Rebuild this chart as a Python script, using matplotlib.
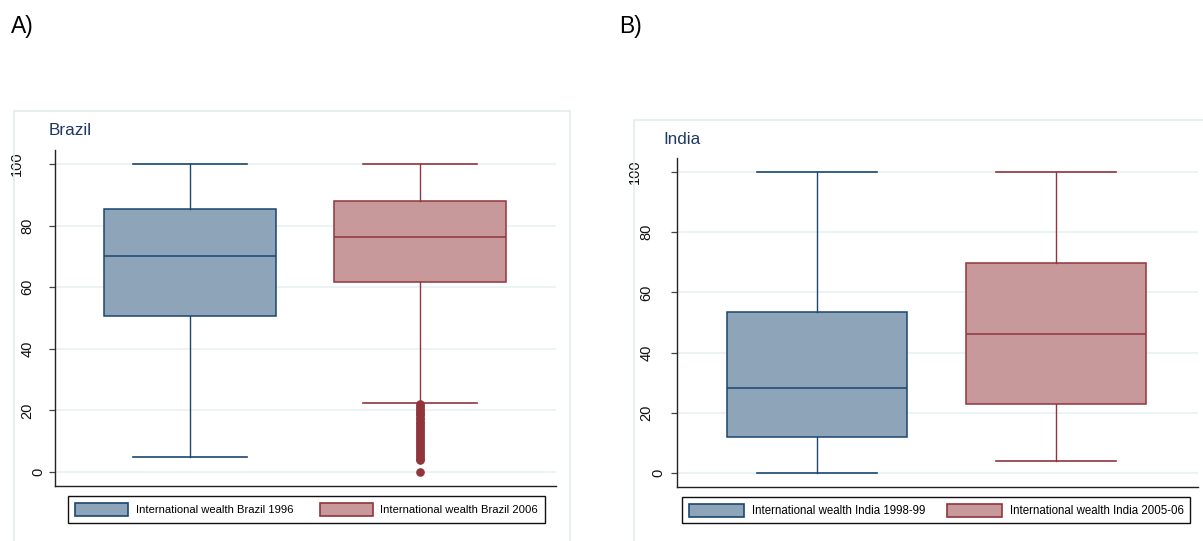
import matplotlib
matplotlib.use("Agg")
import matplotlib.pyplot as plt
from matplotlib.patches import Rectangle, Patch
from matplotlib.transforms import offset_copy

# ---------------- data ----------------
brazil_labels = ["International wealth Brazil 1996", "International wealth Brazil 2006"]
brazil_whislo = [5.0, 22.4]
brazil_q1 = [50.5, 61.7]
brazil_med = [70.1, 76.2]
brazil_q3 = [85.5, 88.1]
brazil_whishi = [100.0, 100.0]
brazil_fliers_1996 = []
brazil_fliers_2006 = [0.0, 3.8, 4.3, 4.9, 5.6, 6.2, 6.9, 7.5, 8.1, 8.8, 9.4, 10.0,
                      10.7, 11.3, 12.0, 12.6, 13.2, 13.9, 14.5, 15.2, 15.8, 16.4,
                      17.1, 17.7, 18.4, 19.0, 19.6, 20.3, 20.9, 21.5, 22.1]

india_labels = ["International wealth India 1998-99", "International wealth India 2005-06"]
india_whislo = [0.0, 4.1]
india_q1 = [12.1, 22.9]
india_med = [28.2, 46.2]
india_q3 = [53.4, 69.9]
india_whishi = [100.0, 100.0]

yticks = [0, 20, 40, 60, 80, 100]
panel_letters = ["A)", "B)"]
panel_titles = ["Brazil", "India"]

# ---------------- style ----------------
W, H = 1203, 541
fig = plt.figure(figsize=(W / 100, H / 100), dpi=100)
fig.patch.set_facecolor("white")

BLUE_EDGE = "#1a476f"
BLUE_FILL = "#8ea4b8"
RED_EDGE = "#90353b"
RED_FILL = "#c8999b"
TITLE_C = "#1f3864"
GRID_C = "#e9f1f3"
FRAME_C = "#e4ecee"
REG = ["Liberation Sans", "DejaVu Sans"]


def px_rect(x0, y0, x1, y1):
    return [x0 / W, 1 - y1 / H, (x1 - x0) / W, (y1 - y0) / H]


# panel frames
fig.patches.append(Rectangle((14 / W, -0.05), (570 - 14) / W, 1.05 - 111 / H,
                             transform=fig.transFigure, fill=False,
                             edgecolor=FRAME_C, linewidth=1.2))
fig.patches.append(Rectangle((634 / W, -0.05), (1215 - 634) / W, 1.05 - 120 / H,
                             transform=fig.transFigure, fill=False,
                             edgecolor=FRAME_C, linewidth=1.2))

# panel letters
fig.text(11 / W, 1 - 33 / H, panel_letters[0], fontsize=16.5, family=REG, color="black")
fig.text(619 / W, 1 - 33 / H, panel_letters[1], fontsize=16.5, family=REG, color="black")

panels = [
    dict(rect=px_rect(55, 150, 556, 486), ylim=(-4.5, 104.5),
         labels=brazil_labels, whislo=brazil_whislo, q1=brazil_q1, med=brazil_med,
         q3=brazil_q3, whishi=brazil_whishi,
         fliers=[brazil_fliers_1996, brazil_fliers_2006],
         pos=[0.2695, 0.7285], bw=0.343, cw=0.2275,
         title=panel_titles[0], title_xy=(49, 135),
         lab_off=(5.5, 11.0),
         leg_xy=(68, 496), leg_fs=8.1,
         leg_px=dict(hl=53, hh=16, htp=8, bp=7, cs=26)),
    dict(rect=px_rect(677, 158, 1198, 487), ylim=(-4.65, 104.65),
         labels=india_labels, whislo=india_whislo, q1=india_q1, med=india_med,
         q3=india_q3, whishi=india_whishi,
         fliers=[[], []],
         pos=[0.2687, 0.7274], bw=0.345, cw=0.229,
         title=panel_titles[1], title_xy=(663, 144),
         lab_off=(6.0, 12.2),
         leg_xy=(682, 497), leg_fs=8.3,
         leg_px=dict(hl=55, hh=16, htp=8, bp=6.5, cs=22)),
]

for p in panels:
    ax = fig.add_axes(p["rect"])
    stats = []
    for i in range(2):
        stats.append(dict(whislo=p["whislo"][i], q1=p["q1"][i], med=p["med"][i],
                          q3=p["q3"][i], whishi=p["whishi"][i],
                          fliers=p["fliers"][i], label=p["labels"][i]))
    for i, (ec, fc) in enumerate([(BLUE_EDGE, BLUE_FILL), (RED_EDGE, RED_FILL)]):
        ax.bxp([stats[i]], positions=[p["pos"][i]], widths=p["bw"],
               capwidths=p["cw"], patch_artist=True, showfliers=True,
               boxprops=dict(facecolor=fc, edgecolor=ec, linewidth=1.1),
               medianprops=dict(color=ec, linewidth=1.1),
               whiskerprops=dict(color=ec, linewidth=1.0),
               capprops=dict(color=ec, linewidth=1.2),
               flierprops=dict(marker="o", markerfacecolor=ec, markeredgecolor=ec,
                               markersize=5.2, linestyle="none"),
               manage_ticks=False, zorder=3)
    ax.set_xlim(0, 1)
    ax.set_ylim(*p["ylim"])
    ax.set_yticks(yticks)
    ax.set_xticks([])
    ax.yaxis.grid(True, color=GRID_C, linewidth=1.2, zorder=0)
    ax.set_axisbelow(True)
    for s in ["top", "right"]:
        ax.spines[s].set_visible(False)
    for s in ["left", "bottom"]:
        ax.spines[s].set_color("#222222")
        ax.spines[s].set_linewidth(1.0)
    ax.tick_params(axis="y", length=4.5, width=0.9, color="#444444", labelleft=False)
    ax.set_facecolor("white")
    # rotated y tick labels
    a, b = p["lab_off"]
    for t in yticks:
        s = str(t)
        off = a + b * len(s)
        tr = offset_copy(ax.get_yaxis_transform(), fig=fig, x=-off, y=0, units="dots")
        ax.text(0, t, s, transform=tr, rotation=90, ha="center", va="center",
                fontsize=10.5, family=REG, color="#111111", clip_on=False)
    # title
    tx, ty = p["title_xy"]
    fig.text(tx / W, 1 - ty / H, p["title"], fontsize=12.3, family=REG,
             color=TITLE_C, va="baseline")
    # legend
    handles = [Patch(facecolor=BLUE_FILL, edgecolor=BLUE_EDGE, linewidth=1.2),
               Patch(facecolor=RED_FILL, edgecolor=RED_EDGE, linewidth=1.2)]
    fs = p["leg_fs"]
    fpx = fs * 100 / 72
    lp = p["leg_px"]
    lx, ly = p["leg_xy"]
    leg = fig.legend(handles, p["labels"], loc="upper left",
                     bbox_to_anchor=(lx / W, 1 - ly / H),
                     bbox_transform=fig.transFigure,
                     ncol=2, prop=dict(family=REG, size=fs),
                     handlelength=lp["hl"] / fpx, handleheight=lp["hh"] / fpx,
                     handletextpad=lp["htp"] / fpx, borderpad=lp["bp"] / fpx,
                     borderaxespad=0, columnspacing=lp["cs"] / fpx,
                     fancybox=False, framealpha=1, edgecolor="#111111")
    leg.get_frame().set_linewidth(1.0)

fig.savefig("out.png", dpi=100, facecolor="white")
